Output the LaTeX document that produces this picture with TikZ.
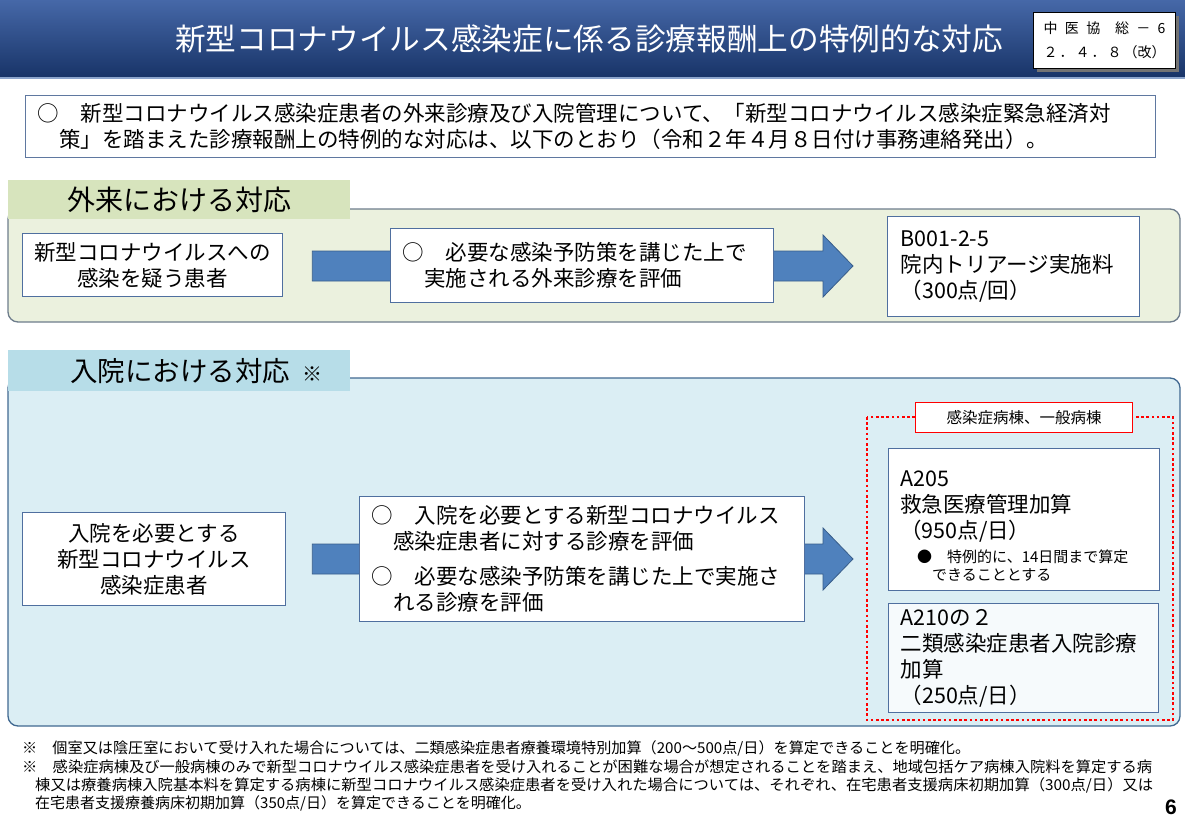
\documentclass[tikz,border=0pt]{standalone}
\usepackage{fontspec}
\usepackage{graphicx}
\setmainfont{Noto Sans CJK JP}
\newfontfamily\libsans{Liberation Sans}
\usetikzlibrary{calc}
\definecolor{titletop}{RGB}{70,104,168}
\definecolor{titlebot}{RGB}{24,52,104}
\definecolor{titleline}{RGB}{140,165,205}
\definecolor{boxborder}{RGB}{79,111,159}
\definecolor{introborder}{RGB}{95,120,160}
\definecolor{greenlab}{RGB}{215,228,189}
\definecolor{greenpanel}{RGB}{235,241,222}
\definecolor{greenborder}{RGB}{110,125,140}
\definecolor{bluelab}{RGB}{183,221,232}
\definecolor{bluepanel}{RGB}{219,238,244}
\definecolor{blueborder}{RGB}{65,105,145}
\definecolor{arrowfill}{RGB}{79,129,189}
\definecolor{arrowdraw}{RGB}{56,93,138}
\definecolor{redline}{RGB}{255,0,0}
\definecolor{a210fill}{RGB}{246,250,252}
\newsavebox\fitbox
\newcommand\fitw[2]{\sbox\fitbox{#2}\pgfmathsetmacro\fitratio{#1/\the\wd\fitbox}\scalebox{\fitratio}[1]{\usebox\fitbox}}
\tikzset{
  body/.style={font=\fontsize{21.5}{26}\selectfont},
  boxl/.style={draw=boxborder, fill=white, line width=1.3pt, align=left, inner ysep=0pt, body},
  boxc/.style={draw=boxborder, fill=white, line width=1.3pt, align=center, inner ysep=0pt, body},
  labbox/.style={anchor=north west, inner sep=0pt, minimum width=342pt},
  panel/.style={rounded corners=10pt, line width=1.3pt},
  blockarrow/.style={fill=arrowfill, draw=arrowdraw, line width=0.8pt},
  note/.style={anchor=west, inner sep=0pt, font=\fontsize{15}{18}\selectfont},
}
\begin{document}
\begin{tikzpicture}[x=1pt,y=-1pt]
\useasboundingbox (0,0) rectangle (1185,825);
\fill[white] (0,0) rectangle (1185,825);
% title bar
\shade[top color=titletop, bottom color=titlebot] (0,0) rectangle (1185,77);
\draw[titleline, line width=1.5pt] (0,78) -- (1185,78);
\node[text=white, font=\fontsize{30.5}{34}\selectfont, inner sep=0pt] (title) at (589,39) {\fitw{828pt}{新型コロナウイルス感染症に係る診療報酬上の特例的な対応}};
\fill[black!55] (1037,16) rectangle (1179,72);
\node[draw=black, fill=white, line width=1pt, anchor=north west, minimum width=142pt, minimum height=56pt, inner sep=0pt, align=left, font=\fontsize{14}{24}\selectfont] (doc) at (1033,12) {\makebox[122pt][s]{中\hfill 医\hfill 協\hfill\hfill 総\hfill －\hfill 6}\\\makebox[122pt][s]{２\hfill ．\hfill ４\hfill ．\hfill ８\hfill （改）}};
% intro
\node[boxl, draw=introborder, anchor=north west, text width=1106pt, inner xsep=12pt, minimum height=62pt] (intro) at (25,95)
 {○　新型コロナウイルス感染症患者の外来診療及び入院管理について、「新型コロナウイルス感染症緊急経済対\\　策」を踏まえた診療報酬上の特例的な対応は、以下のとおり（令和２年４月８日付け事務連絡発出）。};
% outpatient panel
\draw[panel, fill=greenpanel, draw=greenborder] (8,209) rectangle (1180,322);
\node[labbox, fill=greenlab, minimum height=39pt, font=\fontsize{28}{32}\selectfont] (glab) at (8,180) {外来における対応};
\node[boxc, anchor=north west, text width=240pt, inner xsep=10pt, minimum height=63pt] (g1) at (22,233) {新型コロナウイルスへの\\感染を疑う患者};
\coordinate (gtip) at (853,266);
\path[blockarrow] let \p1=(g1.east), \p2=(gtip) in
  (\x1+29pt,\y2+15pt) -- (\x2-30pt,\y2+15pt) -- (\x2-30pt,\y2+31pt) -- (\x2,\y2) -- (\x2-30pt,\y2-31pt) -- (\x2-30pt,\y2-15pt) -- (\x1+29pt,\y2-15pt) -- cycle;
\node[boxl, anchor=north west, text width=359pt, inner xsep=12pt, minimum height=74pt] (g2) at (390,228) {○　必要な感染予防策を講じた上で\\　実施される外来診療を評価};
\node[boxl, anchor=north west, text width=226pt, inner xsep=13pt, minimum height=100pt] (g3) at (887,216) {B001-2-5\\院内トリアージ実施料\\（300点/回）};
% inpatient panel
\draw[panel, fill=bluepanel, draw=blueborder] (8,378) rectangle (1180,726);
\node[labbox, fill=bluelab, minimum height=41pt] (nlab) at (8,350) {};
\node[anchor=west, inner sep=0pt, font=\fontsize{27.5}{32}\selectfont] (nlabtxt) at ($(nlab.west)+(62,0)$) {入院における対応\hspace{12pt}{\fontsize{20}{24}\selectfont ※}};
\node[boxc, anchor=north west, text width=243pt, inner xsep=10pt, minimum height=93pt] (n1) at (22,512) {入院を必要とする\\新型コロナウイルス\\感染症患者};
\coordinate (ntip) at (853,559);
\path[blockarrow] let \p1=(n1.east), \p2=(ntip) in
  (\x1+26pt,\y2+15pt) -- (\x2-30pt,\y2+15pt) -- (\x2-30pt,\y2+31pt) -- (\x2,\y2) -- (\x2-30pt,\y2-31pt) -- (\x2-30pt,\y2-15pt) -- (\x1+26pt,\y2-15pt) -- cycle;
\node[boxl, anchor=north west, text width=421pt, inner xsep=12pt, minimum height=125pt] (n2) at (359,496) {○　入院を必要とする新型コロナウイルス\\　感染症患者に対する診療を評価\\[9pt]○　必要な感染予防策を講じた上で実施さ\\　れる診療を評価};
% ward group
\draw[redline, line width=2.6pt, dash pattern=on 2.6pt off 2.6pt] (867,417) rectangle (1173,720);
\node[draw=redline, fill=white, line width=1.2pt, anchor=north west, minimum width=217pt, minimum height=30pt, inner sep=0pt, font=\fontsize{15.5}{18}\selectfont] (ward) at (915,402) {感染症病棟、一般病棟};
\node[draw=boxborder, fill=white, line width=1.3pt, anchor=north west, minimum width=271pt, minimum height=142pt, inner sep=0pt] (a205) at (888,448) {};
\node[anchor=north west, body, align=left, inner sep=0pt] (a205txt) at ($(a205.north west)+(12,23)$) {A205\\救急医療管理加算\\（950点/日）};
\node[anchor=north west, align=left, inner sep=0pt, font=\fontsize{15}{18}\selectfont] (a205note) at ($(a205.north west)+(29,102)$) {●　特例的に、14日間まで算定\\　できることとする};
\node[boxl, fill=a210fill, anchor=north west, text width=246pt, inner xsep=12pt, minimum height=109pt] (a210) at (888,603) {A210の２\\二類感染症患者入院診療\\加算\\（250点/日）};
% notes
\node[note] (note1) at (22,748) {\fitw{948pt}{※　個室又は陰圧室において受け入れた場合については、二類感染症患者療養環境特別加算（200～500点/日）を算定できることを明確化。}};
\node[note] (note2) at (22,767) {\fitw{1130pt}{※　感染症病棟及び一般病棟のみで新型コロナウイルス感染症患者を受け入れることが困難な場合が想定されることを踏まえ、地域包括ケア病棟入院料を算定する病}};
\node[note] (note3) at (35,785) {\fitw{1118pt}{棟又は療養病棟入院基本料を算定する病棟に新型コロナウイルス感染症患者を受け入れた場合については、それぞれ、在宅患者支援病床初期加算（300点/日）又は}};
\node[note] (note4) at (35,803) {在宅患者支援療養病床初期加算（350点/日）を算定できることを明確化。};
\node[anchor=center, inner sep=0pt, font=\libsans\bfseries\fontsize{21}{24}\selectfont] (page) at (1171,807) {6};
\end{tikzpicture}
\end{document}
